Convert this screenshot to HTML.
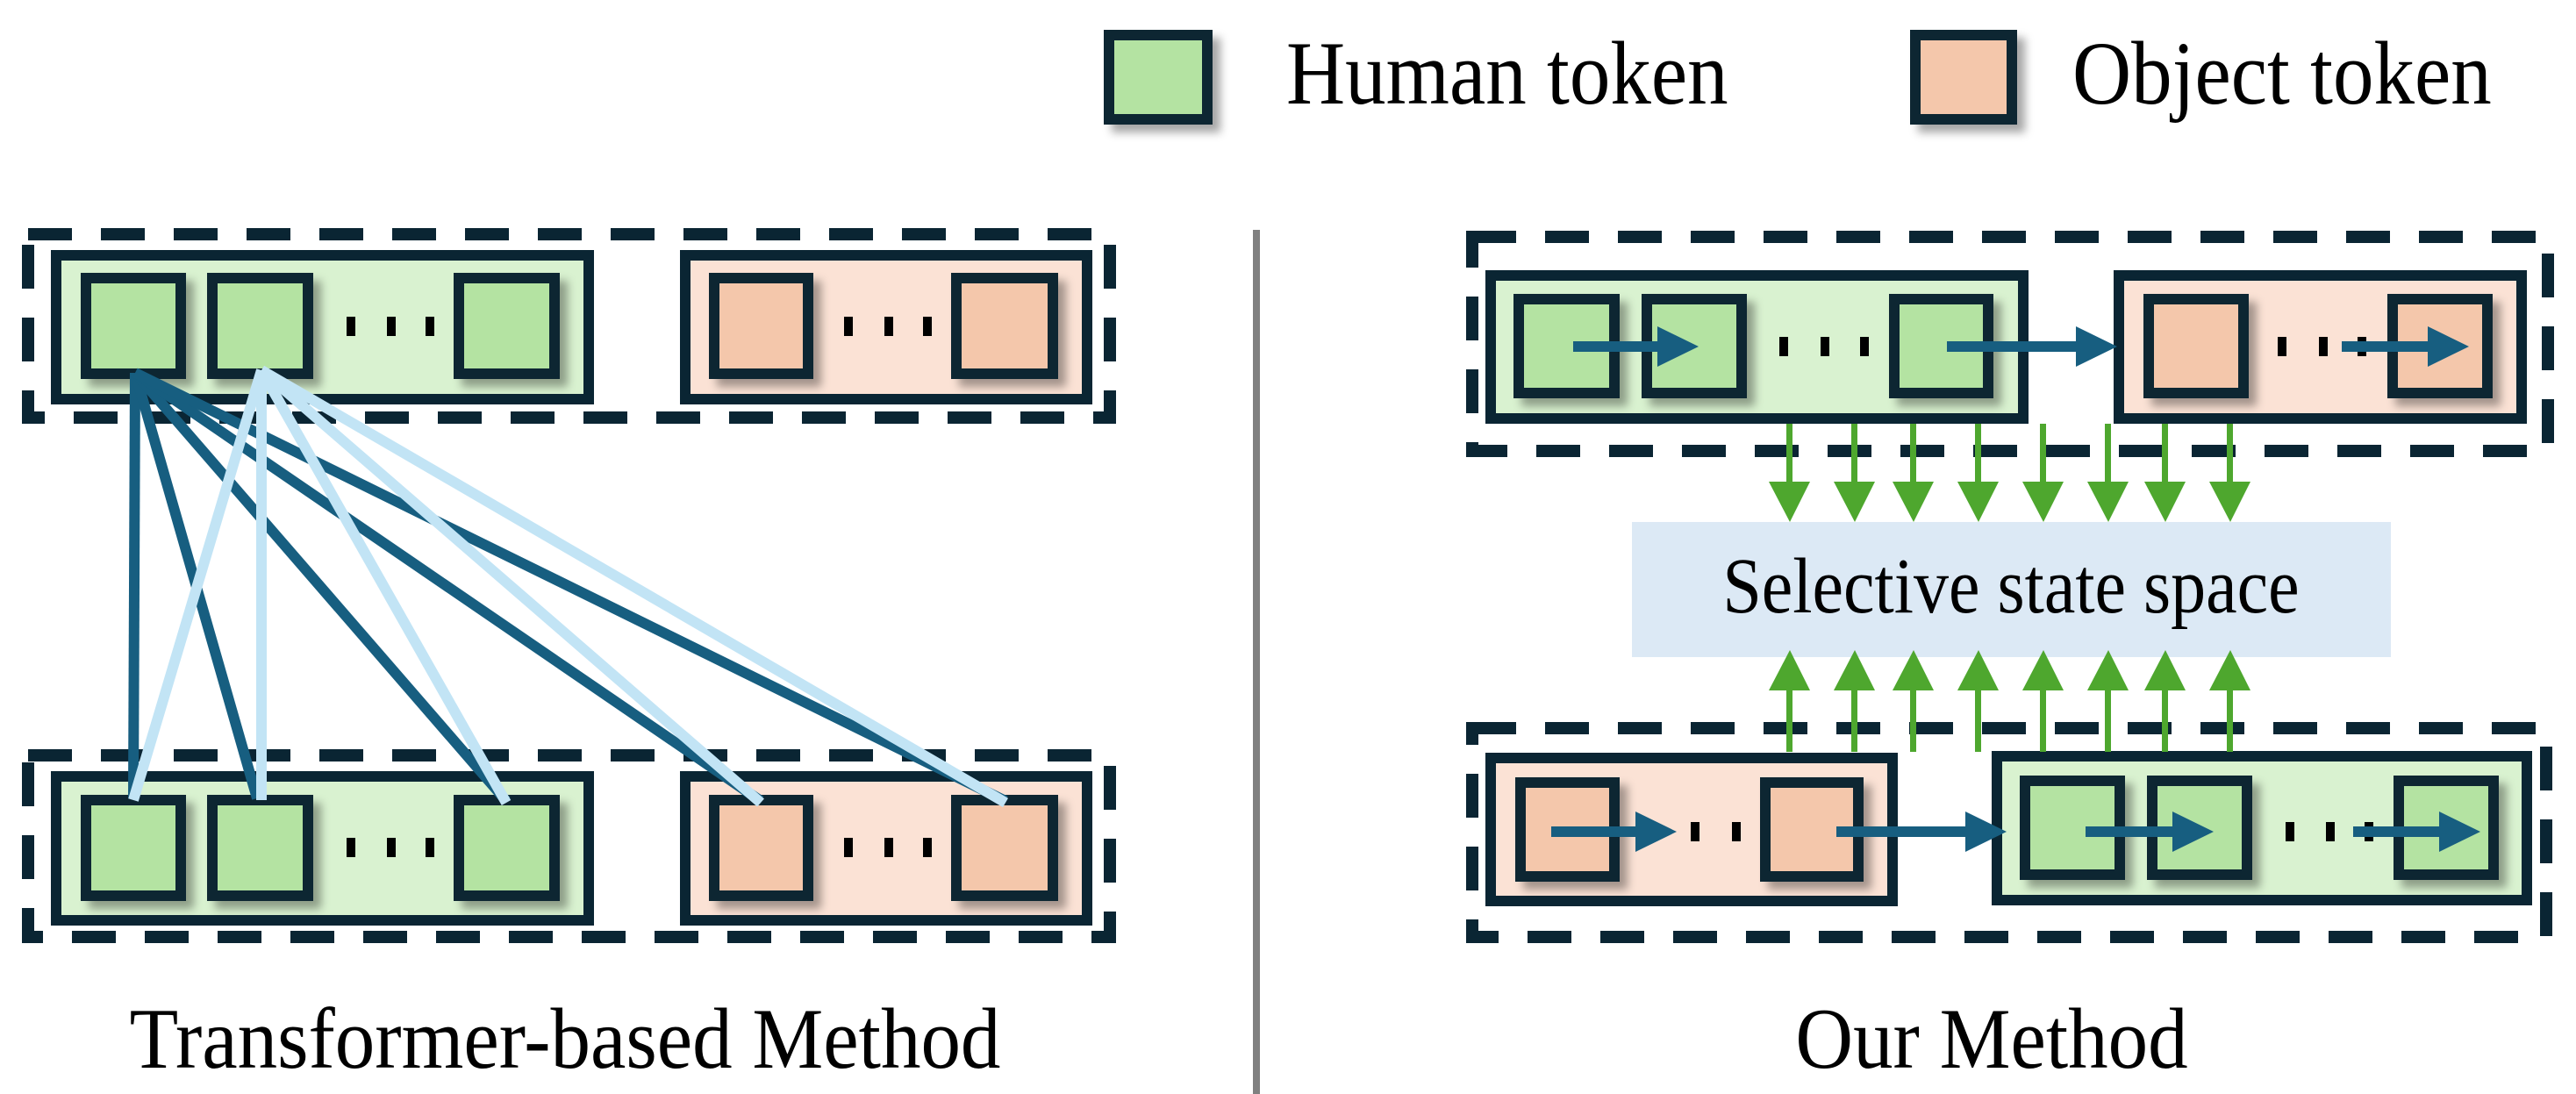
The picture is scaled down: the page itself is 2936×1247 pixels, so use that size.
<!DOCTYPE html>
<html><head><meta charset="utf-8"><style>
html,body{margin:0;padding:0;background:#fff;}
svg{display:block;}
text{font-family:"Liberation Serif",serif;fill:#000;}
</style></head><body>
<svg width="2936" height="1247" viewBox="0 0 2936 1247" xmlns="http://www.w3.org/2000/svg">
<defs>
<filter id="sh" x="-20%" y="-20%" width="150%" height="150%">
<feDropShadow dx="9" dy="9" stdDeviation="5" flood-color="#000" flood-opacity="0.35"/>
</filter>
</defs>
<g stroke="#0a2533" stroke-width="12">
<rect x="1264" y="40" width="112" height="96" fill="#b4e3a2" filter="url(#sh)"/>
<rect x="2183" y="40" width="110" height="96" fill="#f4c7ab" filter="url(#sh)"/>
</g>
<text transform="translate(1466,118) scale(1,1.1)" font-size="93">Human token</text>
<text transform="translate(2362,118) scale(1,1.1)" font-size="93">Object token</text>

<rect x="1428" y="262" width="8" height="985" fill="#808080"/>

<!-- LEFT PANEL -->
<g fill="none" stroke="#0a2533" stroke-width="14" stroke-dasharray="50 33">
<rect x="32" y="267" width="1233" height="209"/>
<rect x="32" y="861" width="1233" height="207"/>
</g>
<g stroke="#0a2533" stroke-width="12">
<rect x="64" y="291" width="607" height="164" fill="#d9f2d0"/>
<rect x="781" y="291" width="458" height="164" fill="#fbe2d5"/>
<rect x="98" y="317" width="108" height="109" fill="#b4e3a2" filter="url(#sh)"/>
<rect x="242" y="317" width="109" height="109" fill="#b4e3a2" filter="url(#sh)"/>
<rect x="523" y="317" width="109" height="109" fill="#b4e3a2" filter="url(#sh)"/>
<rect x="814" y="317" width="107" height="109" fill="#f4c7ab" filter="url(#sh)"/>
<rect x="1090" y="317" width="110" height="109" fill="#f4c7ab" filter="url(#sh)"/>

<rect x="64" y="885" width="607" height="164" fill="#d9f2d0"/>
<rect x="781" y="885" width="458" height="164" fill="#fbe2d5"/>
<rect x="98" y="912" width="108" height="109" fill="#b4e3a2" filter="url(#sh)"/>
<rect x="242" y="912" width="109" height="109" fill="#b4e3a2" filter="url(#sh)"/>
<rect x="523" y="912" width="109" height="109" fill="#b4e3a2" filter="url(#sh)"/>
<rect x="814" y="912" width="107" height="109" fill="#f4c7ab" filter="url(#sh)"/>
<rect x="1090" y="912" width="110" height="109" fill="#f4c7ab" filter="url(#sh)"/>
</g>
<g fill="#000">
<rect x="395" y="361" width="10" height="22"/><rect x="441" y="361" width="10" height="22"/><rect x="485" y="361" width="10" height="22"/>
<rect x="962" y="361" width="10" height="22"/><rect x="1008" y="361" width="10" height="22"/><rect x="1052" y="361" width="10" height="22"/>
<rect x="395" y="955" width="10" height="22"/><rect x="441" y="955" width="10" height="22"/><rect x="485" y="955" width="10" height="22"/>
<rect x="962" y="955" width="10" height="22"/><rect x="1008" y="955" width="10" height="22"/><rect x="1052" y="955" width="10" height="22"/>
</g>
<g stroke="#175e80" stroke-width="12" fill="none">
<line x1="154" y1="425" x2="152" y2="910"/>
<line x1="154" y1="425" x2="293" y2="910"/>
<line x1="154" y1="425" x2="577" y2="913"/>
<line x1="154" y1="425" x2="867" y2="913"/>
<line x1="154" y1="425" x2="1146" y2="913"/>
</g>
<g stroke="#c2e4f5" stroke-width="12" fill="none">
<line x1="298" y1="422" x2="152" y2="912"/>
<line x1="298" y1="422" x2="298" y2="912"/>
<line x1="298" y1="422" x2="577" y2="915"/>
<line x1="298" y1="422" x2="867" y2="915"/>
<line x1="298" y1="422" x2="1146" y2="915"/>
</g>
<text transform="translate(644,1217) scale(1,1.08)" font-size="91" text-anchor="middle">Transformer-based Method</text>

<!-- RIGHT PANEL -->
<g fill="none" stroke="#0a2533" stroke-width="14" stroke-dasharray="50 33">
<rect x="1678" y="270" width="1226" height="244"/>
<rect x="1678" y="830" width="1224" height="238"/>
</g>
<g stroke="#0a2533" stroke-width="12">
<rect x="1699" y="314" width="607" height="163" fill="#d9f2d0"/>
<rect x="2415" y="314" width="459" height="163" fill="#fbe2d5"/>
<rect x="1731" y="341" width="109" height="107" fill="#b4e3a2" filter="url(#sh)"/>
<rect x="1877" y="341" width="108" height="107" fill="#b4e3a2" filter="url(#sh)"/>
<rect x="2159" y="341" width="107" height="107" fill="#b4e3a2" filter="url(#sh)"/>
<rect x="2449" y="341" width="108" height="107" fill="#f4c7ab" filter="url(#sh)"/>
<rect x="2727" y="341" width="108" height="107" fill="#f4c7ab" filter="url(#sh)"/>

<rect x="1699" y="864" width="458" height="163" fill="#fbe2d5"/>
<rect x="2276" y="862" width="604" height="164" fill="#d9f2d0"/>
<rect x="1733" y="892" width="107" height="107" fill="#f4c7ab" filter="url(#sh)"/>
<rect x="2012" y="892" width="106" height="107" fill="#f4c7ab" filter="url(#sh)"/>
<rect x="2308" y="890" width="108" height="107" fill="#b4e3a2" filter="url(#sh)"/>
<rect x="2453" y="890" width="108" height="107" fill="#b4e3a2" filter="url(#sh)"/>
<rect x="2734" y="890" width="108" height="107" fill="#b4e3a2" filter="url(#sh)"/>
</g>
<g fill="#000">
<rect x="2028" y="384" width="10" height="22"/><rect x="2075" y="384" width="10" height="22"/><rect x="2120" y="384" width="10" height="22"/>
<rect x="2596" y="384" width="10" height="22"/><rect x="2643" y="384" width="10" height="22"/><rect x="2687" y="384" width="10" height="22"/>
<rect x="1927" y="937" width="10" height="22"/><rect x="1974" y="937" width="10" height="22"/>
<rect x="2605" y="937" width="10" height="22"/><rect x="2651" y="937" width="10" height="22"/><rect x="2695" y="937" width="10" height="22"/>
</g>
<g fill="#175e80">
<rect x="1793" y="389" width="100" height="12"/><path d="M1889,372 L1936,395 L1889,418 z"/>
<rect x="2219" y="389" width="150" height="12"/><path d="M2366,372 L2413,395 L2366,418 z"/>
<rect x="2669" y="389" width="100" height="12"/><path d="M2767,372 L2814,395 L2767,418 z"/>
<rect x="1768" y="942" width="100" height="12"/><path d="M1864,925 L1911,948 L1864,971 z"/>
<rect x="2093" y="942" width="150" height="12"/><path d="M2240,925 L2287,948 L2240,971 z"/>
<rect x="2377" y="942" width="100" height="12"/><path d="M2476,925 L2523,948 L2476,971 z"/>
<rect x="2682" y="942" width="100" height="12"/><path d="M2780,925 L2827,948 L2780,971 z"/>
</g>
<rect x="1860" y="595" width="865" height="154" fill="#dce9f5"/>
<text transform="translate(2292,698) scale(1,1.12)" font-size="80" text-anchor="middle">Selective state space</text>
<g fill="#4ea72e">
<g id="dn">
<rect x="2036" y="483" width="7" height="68"/><path d="M2016,549 L2063,549 L2040,595 z"/>
</g>
<use href="#dn" x="74"/><use href="#dn" x="141"/><use href="#dn" x="215"/><use href="#dn" x="289"/><use href="#dn" x="363"/><use href="#dn" x="428"/><use href="#dn" x="502"/>
<g id="up">
<rect x="2036" y="785" width="7" height="72"/><path d="M2016,787 L2063,787 L2040,741 z"/>
</g>
<use href="#up" x="74"/><use href="#up" x="141"/><use href="#up" x="215"/><use href="#up" x="289"/><use href="#up" x="363"/><use href="#up" x="428"/><use href="#up" x="502"/>
</g>
<text transform="translate(2270,1217) scale(1,1.08)" font-size="91" text-anchor="middle">Our Method</text>
</svg>
</body></html>
